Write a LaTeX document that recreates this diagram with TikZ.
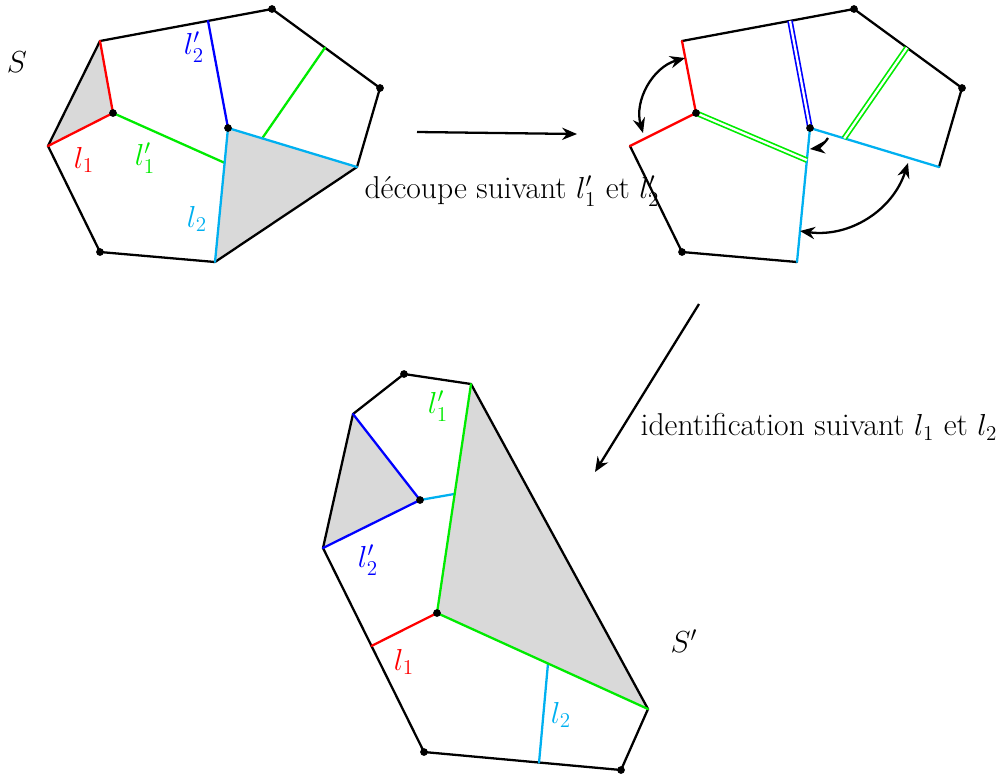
\documentclass[tikz,border=0pt]{standalone}
\usetikzlibrary{arrows.meta,calc}
\definecolor{cR}{RGB}{255,0,0}
\definecolor{cG}{RGB}{0,235,0}
\definecolor{cB}{RGB}{0,0,255}
\definecolor{cC}{RGB}{0,176,240}
\definecolor{cF}{RGB}{217,217,217}
\tikzset{
  edge/.style={line width=1.3pt, line join=round, line cap=round},
  dbl/.style={line width=0.95pt, double=white, double distance=1.3pt},
  pt/.style={circle, fill=black, inner sep=0pt, minimum size=4.4pt},
  lab/.style={inner sep=0pt, font=\fontsize{18}{21}\selectfont},
  arr/.style={line width=1.3pt, -{Stealth[length=8.5pt,width=7pt,inset=2.8pt]}},
  darr/.style={line width=1.3pt, {Stealth[length=8.5pt,width=7pt,inset=2.8pt]}-{Stealth[length=8.5pt,width=7pt,inset=2.8pt]}},
}
\begin{document}
\begin{tikzpicture}[x=0.02cm,y=-0.02cm]
\useasboundingbox (0,0) rectangle (1004,775);
% ---------- Figure 1 : S ----------
\coordinate (a1) at (100,41);
\coordinate (a2) at (272,9);
\coordinate (a3) at (380,88);
\coordinate (a4) at (357,167);
\coordinate (a5) at (215,262);
\coordinate (a6) at (100,252);
\coordinate (a7) at (48,146);
\coordinate (A) at (113,113);
\coordinate (B) at (228,128);
\coordinate (g1) at ($(B)!0.26!(a5)$);
\coordinate (g2) at ($(B)!0.265!(a4)$);
\coordinate (g3) at ($(a2)!0.49!(a3)$);
\coordinate (b1) at ($(a1)!0.628!(a2)$);
\fill[cF] (a7) -- (a1) -- (A) -- cycle;
\fill[cF] (B) -- (a4) -- (a5) -- cycle;
\draw[edge] (a1) -- (a2) -- (a3) -- (a4) -- (a5) -- (a6) -- (a7) -- (a1);
\draw[edge,cR] (a1) -- (A) -- (a7);
\draw[edge,cG] (A) -- (g1);
\draw[edge,cG] (g2) -- (g3);
\draw[edge,cB] (b1) -- (B);
\draw[edge,cC] (a5) -- (B) -- (a4);
\foreach \p in {a2,a3,a6,A,B} \node[pt] at (\p) {};
\node[lab] (S) at (17,62) {$S$};
\node[lab,text=cR] (L1a) at (84,160) {$l_1$};
\node[lab,text=cG] (L1pa) at (145,158) {$l'_1$};
\node[lab,text=cB] (L2pa) at (194,47) {$l'_2$};
\node[lab,text=cC] (L2a) at (197,219) {$l_2$};
% ---------- arrow 1 ----------
\coordinate (r1s) at (417,132);
\coordinate (r1e) at (577,134);
\draw[arr] (r1s) -- (r1e);
\node[lab] (T1) at (512,191) {découpe suivant $l'_1$ et $l'_2$};
% ---------- Figure 2 : cut ----------
\begin{scope}[xshift=582*0.02cm]
\coordinate (e1) at (100,41);
\coordinate (e2) at (272,9);
\coordinate (e3) at (380,88);
\coordinate (e4) at (357,167);
\coordinate (e5) at (215,262);
\coordinate (e6) at (100,252);
\coordinate (e7) at (48,146);
\coordinate (eA) at (114,113);
\coordinate (eB) at (228,128);
\coordinate (f1) at ($(eB)!0.24!(e5)$);
\coordinate (f2) at ($(eB)!0.265!(e4)$);
\coordinate (f3) at ($(e2)!0.49!(e3)$);
\coordinate (fb) at ($(e1)!0.628!(e2)$);
\draw[edge] (e7) -- (e6) -- (e5);
\draw[edge] (e1) -- (e2) -- (e3) -- (e4);
\draw[edge,cR] (e1) -- (eA) -- (e7);
\draw[edge,cC] (e5) -- (eB) -- (e4);
\draw[dbl,cG] (eA) -- (f1);
\draw[dbl,cG] (f2) -- (f3);
\draw[dbl,cB] (fb) -- (eB);
\foreach \p in {e2,e3,e6,eA,eB} \node[pt] at (\p) {};
\coordinate (k1) at (103,58);
\coordinate (k2) at (61,133);
\coordinate (k3) at (326,163);
\coordinate (k4) at (218,231);
\coordinate (k5) at (246,138);
\coordinate (k6) at (228,149);
\end{scope}
\draw[darr] (k1) to[bend right=45] (k2);
\draw[darr] (k3) to[bend left=40] (k4);
\draw[arr] (k5) to[bend left=25] (k6);
% ---------- arrow 2 ----------
\coordinate (r2s) at (699,304);
\coordinate (r2e) at (595,472);
\draw[arr] (r2s) -- (r2e);
\node[lab] (T2) at (819,427) {identification suivant $l_1$ et $l_2$};
% ---------- Figure 3 : S' ----------
\coordinate (c1) at (404,374);
\coordinate (c2) at (471,384);
\coordinate (c3) at (648,709);
\coordinate (c4) at (621,770);
\coordinate (c5) at (424,752);
\coordinate (c6) at (323,548);
\coordinate (c7) at (353,414);
\coordinate (C) at (420,500);
\coordinate (D) at (437,613);
\coordinate (h1) at ($(c2)!0.48!(D)$);
\coordinate (h2) at ($(D)!0.526!(c3)$);
\coordinate (h3) at ($(c5)!0.584!(c4)$);
\coordinate (h4) at ($(c6)!0.48!(c5)$);
\fill[cF] (c7) -- (C) -- (c6) -- cycle;
\fill[cF] (c2) -- (D) -- (c3) -- cycle;
\draw[edge] (c1) -- (c2) -- (c3) -- (c4) -- (c5) -- (c6) -- (c7) -- (c1);
\draw[edge,cB] (c7) -- (C) -- (c6);
\draw[edge,cC] (C) -- (h1);
\draw[edge,cC] (h2) -- (h3);
\draw[edge,cG] (c2) -- (D) -- (c3);
\draw[edge,cR] (D) -- (h4);
\foreach \p in {c1,c4,c5,C,D} \node[pt] at (\p) {};
\node[lab,text=cG] (L1pc) at (438,406) {$l'_1$};
\node[lab,text=cB] (L2pc) at (368,560) {$l'_2$};
\node[lab,text=cR] (L1c) at (404,662) {$l_1$};
\node[lab,text=cC] (L2c) at (561,715) {$l_2$};
\node[lab] (Sp) at (684,641) {$S'$};
\end{tikzpicture}
\end{document}
